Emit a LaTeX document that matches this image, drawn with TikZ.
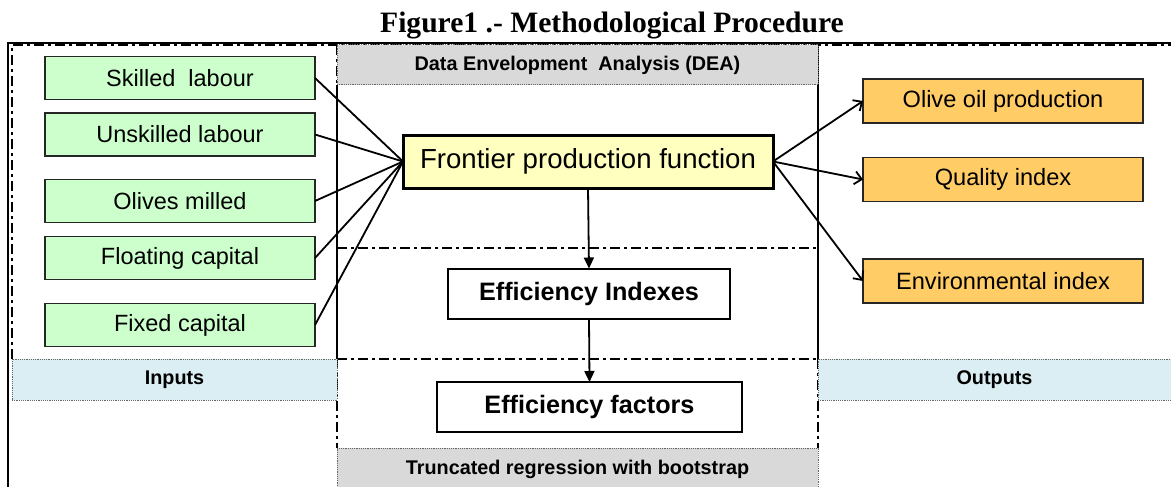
\documentclass[tikz,border=0pt]{standalone}
\usepackage{fontspec}
\setmainfont{Liberation Sans}
\newfontfamily\titlefont{Liberation Serif}
\usetikzlibrary{arrows.meta}

\definecolor{inbox}{HTML}{CCFFCC}
\definecolor{outbox}{HTML}{FFCC66}
\definecolor{frontbox}{HTML}{FFFFC0}
\definecolor{greylabel}{HTML}{D9D9D9}
\definecolor{bluelabel}{HTML}{DAEEF3}

\tikzset{
  every node/.style={inner sep=0pt, outer sep=0pt},
  inputbox/.style={draw=black!85, line width=1.5pt, fill=inbox,
    minimum width=270pt, minimum height=43pt, font=\fontsize{23.5}{26}\selectfont},
  outputbox/.style={draw=black!85, line width=1.5pt, fill=outbox,
    minimum width=280pt, minimum height=44pt, font=\fontsize{23.6}{26}\selectfont},
  frontierbox/.style={draw=black, line width=3pt, fill=frontbox,
    minimum width=370pt, minimum height=53pt, font=\fontsize{27.6}{30}\selectfont},
  effbox/.style={draw=black, line width=2pt, fill=white,
    minimum height=50pt, font=\bfseries\fontsize{25.2}{28}\selectfont},
  labelbox/.style={draw=black!60, line width=1pt, dash pattern=on 1.2pt off 1pt,
    font=\bfseries\fontsize{19.8}{22}\selectfont},
  frame/.style={line width=1.5pt},
  dashdot/.style={line width=1.5pt, dash pattern=on 10pt off 4pt on 3pt off 4pt},
  feed/.style={line width=1.8pt},
  outarrow/.style={line width=1.8pt, -{Straight Barb[length=7pt,width=13pt,line width=1.8pt]}},
  downarrow/.style={line width=1.8pt, -{Triangle[length=11pt,width=10pt]}}
}

\begin{document}
\begin{tikzpicture}[x=1pt,y=-1pt]
\useasboundingbox (0,0) rectangle (1171,487);

% title
\node[font=\titlefont\bfseries\fontsize{29.6}{32}\selectfont] (title) at (612,25) {Figure1 .- Methodological Procedure};

% outer frame
\draw[frame] (8,490) -- (8,43) -- (1175,43);

% panel separations
\draw[dashdot] (12,359) -- (12,45) -- (1175,45);
\draw[line width=1.8pt] (337,85) -- (337,359);
\draw[line width=1.8pt] (818,45) -- (818,359);
\draw[dashdot] (337,45) -- (337,85);
\draw[dashdot] (337,359) -- (337,448);
\draw[dashdot] (818,359) -- (818,448);
\draw[dashdot] (337,248) -- (818,248);
\draw[dashdot] (337,359) -- (818,359);

% band labels
\node[labelbox, fill=greylabel, minimum width=481pt, minimum height=40pt] (dea) at (577.5,65) {Data Envelopment~~Analysis (DEA)};
\node[labelbox, fill=bluelabel, minimum width=325pt, minimum height=41pt] (inputs) at (174.5,379.5) {Inputs};
\node[labelbox, fill=bluelabel, minimum width=360pt, minimum height=41pt, anchor=west] (outputs) at (818,379.5) {\hspace*{-7pt}Outputs};
\node[labelbox, fill=greylabel, minimum width=481pt, minimum height=42pt] (trunc) at (577.5,469) {Truncated regression with bootstrap};

% inputs
\node[inputbox] (skilled) at (180,78) {Skilled~~labour};
\node[inputbox] (unskilled) at (180,134.5) {Unskilled labour};
\node[inputbox] (olives) at (180,201) {Olives milled};
\node[inputbox] (floating) at (180,258) {Floating capital};
\node[inputbox] (fixed) at (180,325) {Fixed capital};

% DEA and regression steps
\node[frontierbox] (front) at (588,161.5) {Frontier production function};
\node[effbox, minimum width=282pt] (indexes) at (589,293.5) {Efficiency Indexes};
\node[effbox, minimum width=305pt] (factors) at (589.5,407) {Efficiency factors};

% outputs
\node[outputbox] (olive) at (1003,101) {Olive oil production};
\node[outputbox] (quality) at (1003,179.5) {Quality index};
\node[outputbox] (env) at (1003,281) {Environmental index};

% connectors
\foreach \n in {skilled,unskilled,olives,floating,fixed}
  \draw[feed] (\n.east) -- (front.west);
\foreach \n in {olive,quality,env}
  \draw[outarrow] (front.east) -- (\n.west);
\draw[downarrow] (front.south) -- (indexes.north);
\draw[downarrow] (indexes.south) -- (factors.north);
\end{tikzpicture}
\end{document}
